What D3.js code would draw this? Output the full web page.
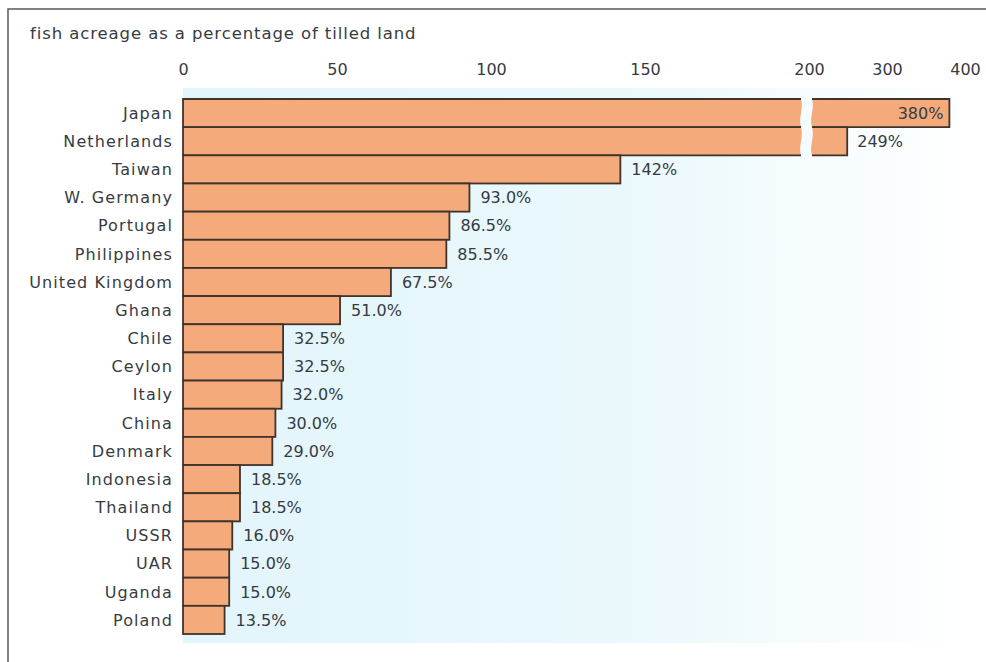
<!DOCTYPE html>
<html>
<head>
<meta charset="utf-8">
<script src="https://cdn.jsdelivr.net/npm/d3@7"></script>
<style>
  body { margin: 0; background: #fff; }
  svg { display: block; }
  text { font-family: "Century Gothic", "URW Gothic", "DejaVu Sans", sans-serif; fill: #363b43; }
</style>
</head>
<body>
<svg id="chart" width="986" height="662"></svg>
<script>
"use strict";

// data
var countries = ["Japan", "Netherlands", "Taiwan", "W. Germany", "Portugal", "Philippines",
    "United Kingdom", "Ghana", "Chile", "Ceylon", "Italy", "China", "Denmark", "Indonesia",
    "Thailand", "USSR", "UAR", "Uganda", "Poland"];
var percents = [380, 249, 142, 93.0, 86.5, 85.5, 67.5, 51.0, 32.5, 32.5, 32.0, 30.0, 29.0,
    18.5, 18.5, 16.0, 15.0, 15.0, 13.5];
var labels = ["380%", "249%", "142%", "93.0%", "86.5%", "85.5%", "67.5%", "51.0%", "32.5%",
    "32.5%", "32.0%", "30.0%", "29.0%", "18.5%", "18.5%", "16.0%", "15.0%", "15.0%", "13.5%"];
var ticksLow = [0, 50, 100, 150];
var ticksHigh = [200, 300, 400];
var title = "fish acreage as a percentage of tilled land";

var data = countries.map(function(c, i) { return {name: c, value: percents[i], label: labels[i]}; });

var svg = d3.select("#chart");

var fill = "#f5aa7b";
var edge = "#3e342c";

// broken axis: two linear pieces
var xLow = d3.scaleLinear().domain([0, 200]).range([183, 799]);
var xHigh = d3.scaleLinear().domain([200, 400]).range([809, 965]);
var breakL = 801, breakR = 812;

var y = d3.scaleBand().domain(countries).range([99, 634]).padding(0);

// faint blue backdrop
var defs = svg.append("defs");
var grad = defs.append("linearGradient").attr("id", "bg");
grad.append("stop").attr("offset", "0%").attr("stop-color", "#e2f5fb");
grad.append("stop").attr("offset", "55%").attr("stop-color", "#eaf8fc");
grad.append("stop").attr("offset", "100%").attr("stop-color", "#ffffff");
svg.append("rect")
    .attr("x", 183).attr("y", 88)
    .attr("width", 790).attr("height", 555)
    .attr("fill", "url(#bg)");

// frame (right and bottom edges run off the page)
svg.append("rect")
    .attr("x", 8).attr("y", 9)
    .attr("width", 1000).attr("height", 680)
    .attr("fill", "none")
    .attr("stroke", "#5a5a5a")
    .attr("stroke-width", 1.5);

svg.append("text")
    .attr("x", 30).attr("y", 39)
    .attr("font-size", 16.5)
    .attr("letter-spacing", 0.9)
    .text(title);

// axes
var axLow = svg.append("g")
    .attr("transform", "translate(0,75)")
    .call(d3.axisTop(xLow).tickValues(ticksLow).tickSize(0).tickPadding(0));
var axHigh = svg.append("g")
    .attr("transform", "translate(0,75)")
    .call(d3.axisTop(xHigh).tickValues(ticksHigh).tickSize(0).tickPadding(0));
[axLow, axHigh].forEach(function(ax) {
    ax.select(".domain").remove();
    ax.selectAll("text")
        .attr("font-size", 16)
        .attr("font-family", null)
        .attr("fill", "#363b43")
        .attr("dy", 0);
    ax.attr("font-family", null);
});

// wavy break edge
function wave(x, y0, y1) {
    var h = y1 - y0;
    return "C" + (x + 3) + "," + (y0 + h * 0.35) + " " + (x - 3) + "," + (y0 + h * 0.65) + " " + x + "," + y1;
}

var bars = svg.append("g");
data.forEach(function(d) {
    var y0 = y(d.name), y1 = y0 + y.bandwidth();
    var x0 = xLow(0);
    if (d.value <= 200) {
        bars.append("rect")
            .attr("x", x0).attr("y", y0)
            .attr("width", xLow(d.value) - x0)
            .attr("height", y.bandwidth())
            .attr("fill", fill)
            .attr("stroke", edge)
            .attr("stroke-width", 1.8);
    } else {
        var xe = xHigh(d.value);
        // left piece
        bars.append("path")
            .attr("d", "M" + breakL + "," + y0 + wave(breakL, y0, y1) + "L" + x0 + "," + y1 + "L" + x0 + "," + y0 + "Z")
            .attr("fill", fill).attr("stroke", "none");
        bars.append("path")
            .attr("d", "M" + breakL + "," + y0 + "L" + x0 + "," + y0 + "L" + x0 + "," + y1 + "L" + breakL + "," + y1)
            .attr("fill", "none").attr("stroke", edge).attr("stroke-width", 1.8);
        // right piece
        bars.append("path")
            .attr("d", "M" + breakR + "," + y0 + wave(breakR, y0, y1) + "L" + xe + "," + y1 + "L" + xe + "," + y0 + "Z")
            .attr("fill", fill).attr("stroke", "none");
        bars.append("path")
            .attr("d", "M" + breakR + "," + y0 + "L" + xe + "," + y0 + "L" + xe + "," + y1 + "L" + breakR + "," + y1)
            .attr("fill", "none").attr("stroke", edge).attr("stroke-width", 1.8);
    }
});

// category labels
svg.append("g").selectAll("text")
    .data(data)
    .enter().append("text")
    .attr("x", 173)
    .attr("y", function(d) { return y(d.name) + y.bandwidth() / 2; })
    .attr("dy", "0.36em")
    .attr("text-anchor", "end")
    .attr("font-size", 16)
    .attr("letter-spacing", 1.1)
    .text(function(d) { return d.name; });

// value labels
svg.append("g").selectAll("text")
    .data(data)
    .enter().append("text")
    .attr("x", function(d) {
        if (d.value > 300) return xHigh(d.value) - 6;
        if (d.value > 200) return xHigh(d.value) + 10;
        return xLow(d.value) + 11;
    })
    .attr("y", function(d) { return y(d.name) + y.bandwidth() / 2; })
    .attr("dy", "0.36em")
    .attr("text-anchor", function(d) { return d.value > 300 ? "end" : "start"; })
    .attr("font-size", 16)
    .attr("fill", "#38404c")
    .text(function(d) { return d.label; });
</script>
</body>
</html>
